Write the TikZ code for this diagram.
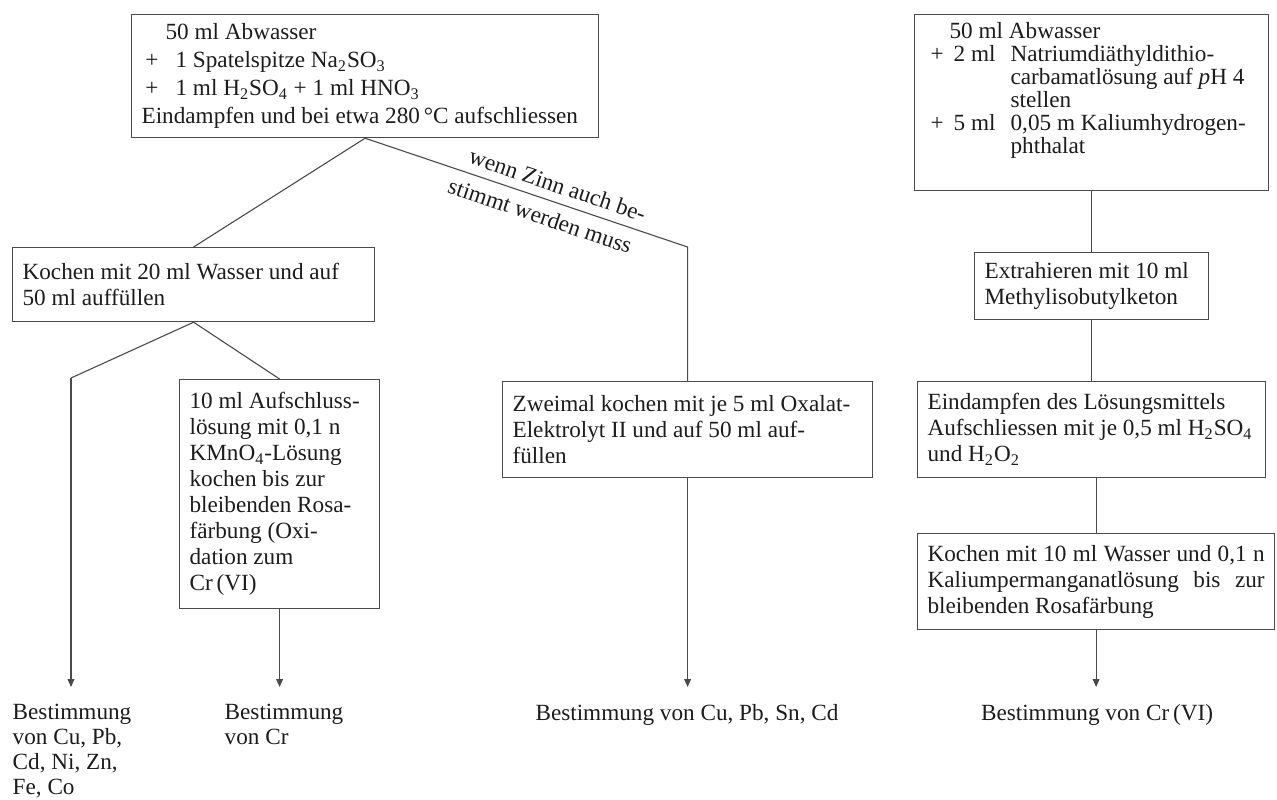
\documentclass[tikz,border=0pt]{standalone}
\usepackage{fontspec}
\setmainfont{Liberation Serif}
\usepackage{tikz}
\usetikzlibrary{arrows.meta}

\definecolor{ink}{HTML}{1C1C1C}
\definecolor{rule}{HTML}{4A4A4A}

\begin{document}
\begin{tikzpicture}[x=0.5pt, y=-0.5pt,
    font=\fontsize{11.6pt}{13pt}\selectfont, text=ink,
    box/.style={draw=rule, line width=0.6pt, anchor=north west, align=flush left,
      inner xsep=5pt, inner ysep=3pt},
    link/.style={draw=rule, line width=0.55pt},
    arr/.style={link, -{Triangle[length=4pt, width=3.4pt]}},
    result/.style={anchor=north, align=flush left, inner sep=0pt, outer ysep=8.5pt,
      font=\fontsize{11.6pt}{12.5pt}\selectfont}]
  \useasboundingbox (0,0) rectangle (1277,799);

  % left half: digestion with HNO3 / H2SO4
  \node[box, text width=223.5pt, minimum height=61.5pt,
      font=\fontsize{11.6pt}{14pt}\selectfont] (abw) at (131,14)
    {\hspace*{12pt}50 ml Abwasser\\
     \makebox[17pt][l]{\,+}1 Spatelspitze Na\textsubscript{2}SO\textsubscript{3}\\
     \makebox[17pt][l]{\,+}1 ml H\textsubscript{2}SO\textsubscript{4} + 1 ml HNO\textsubscript{3}\\
     Eindampfen und bei etwa 280\,°C aufschliessen};
  \node[box, text width=171pt, minimum height=37pt] (koch) at (12,247)
    {Kochen mit 20 ml Wasser und auf\\50 ml auffüllen};
  \node[box, text width=90pt, minimum height=114.5pt] (aufs) at (179,379)
    {10 ml Aufschluss-\\lösung mit 0,1 n\\KMnO\textsubscript{4}-Lösung\\kochen bis zur\\
     bleibenden Rosa-\\färbung (Oxi-\\dation zum\\Cr\,(VI)};
  \node[box, text width=175pt, minimum height=48pt] (oxa) at (502,381)
    {Zweimal kochen mit je 5 ml Oxalat-\\Elektrolyt II und auf 50 ml auf-\\füllen};

  % right half: extraction with the dithiocarbamate
  \node[box, text width=167pt, minimum height=88pt,
      font=\fontsize{11.6pt}{11.5pt}\selectfont] (dtc) at (914,14)
    {\hspace*{12.5pt}50 ml Abwasser\\
     \makebox[14.5pt][l]{\hspace{3pt}+}\makebox[28.5pt][l]{2 ml}Natriumdiäthyldithio-\\
     \hspace*{43pt}carbamatlösung auf \textit{p}H 4\\
     \hspace*{43pt}stellen\\
     \makebox[14.5pt][l]{\hspace{3pt}+}\makebox[28.5pt][l]{5 ml}0,05 m Kaliumhydrogen-\\
     \hspace*{43pt}phthalat\par\vspace*{12pt}};
  \node[box, text width=107pt, minimum height=33.5pt] (extr) at (974,252)
    {Extrahieren mit 10 ml\\Methylisobutylketon};
  \node[box, text width=164pt, minimum height=48pt] (eind) at (917,381)
    {Eindampfen des Lösungsmittels\\
     Aufschliessen mit je 0,5 ml H\textsubscript{2}SO\textsubscript{4}\\
     und H\textsubscript{2}O\textsubscript{2}};
  \node[box, align=justify, text width=168.5pt, minimum height=48pt] (perm) at (917,533)
    {Kochen mit 10 ml Wasser und 0,1 n\linebreak
     Kaliumpermanganatlösung bis zur\linebreak
     bleibenden Rosafärbung};

  \node[result] (resA) at (72,687) {Bestimmung\\von Cu, Pb,\\Cd, Ni, Zn,\\Fe, Co};
  \node[result] (resCr) at (284,687) {Bestimmung\\von Cr};
  \node[result] (resSn) at (687,687) {Bestimmung von Cu, Pb, Sn, Cd};
  \node[result] (resR) at (1097,687) {Bestimmung von Cr\,(VI)};

  \coordinate (kL) at (71,378);
  \coordinate (kSn) at (oxa.north |- koch.north);

  \draw[link] (abw.south) -- (koch.north);
  \draw[link] (abw.south)
    -- node[sloped, above=1pt, pos=0.58] {wenn Zinn auch be-}
       node[sloped, below=1pt, pos=0.56] {stimmt werden muss} (kSn)
    -- (oxa.north);
  \draw[link] (koch.south) -- (kL);
  \draw[link] (koch.south) -- (aufs.north);
  \draw[arr] (kL) -- (kL |- resA.north);
  \draw[arr] (aufs.south) -- (aufs.south |- resCr.north);
  \draw[arr] (oxa.south) -- (oxa.south |- resSn.north);

  \draw[link] (extr.north) -- (extr.north |- dtc.south);
  \draw[link] (eind.north) -- (eind.north |- extr.south);
  \draw[link] (perm.north) -- (perm.north |- eind.south);
  \draw[arr] (perm.south) -- (perm.south |- resR.north);
\end{tikzpicture}
\end{document}
